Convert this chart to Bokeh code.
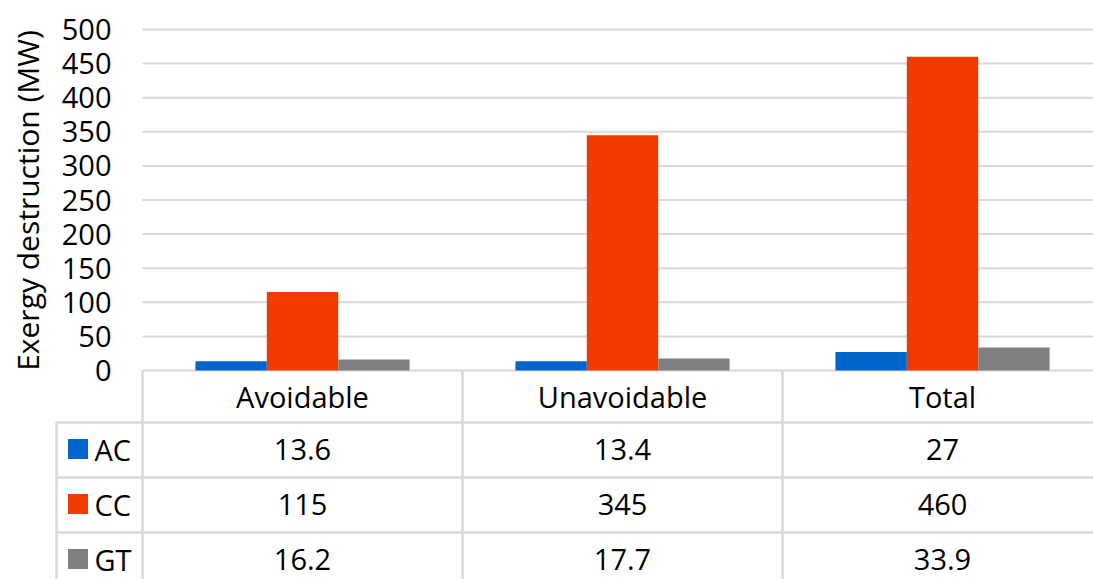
from bokeh.plotting import figure
from bokeh.models import ColumnDataSource, Range1d
from bokeh.transform import dodge
from bokeh.core.properties import value
from bokeh.embed import file_html
from bokeh.resources import INLINE
import numpy as np

categories = ["Avoidable", "Unavoidable", "Total"]
series = ["AC", "CC", "GT"]
ac = [13.6, 13.4, 27]
cc = [115, 345, 460]
gt = [16.2, 17.7, 33.9]
value_labels = {"AC": ["13.6", "13.4", "27"], "CC": ["115", "345", "460"], "GT": ["16.2", "17.7", "33.9"]}
colors = {"AC": "#0066CC", "CC": "#F03A00", "GT": "#7F7F7F"}
y_ticks = list(range(0, 501, 50))
y_title = "Exergy destruction (MW)"

FONT = "Open Sans"
GRID = "#D9D9D9"
TXT = "#000000"

# geometry (page pixels): plot area starts at 142, each category column is 320 px wide
W, H = 1093, 579
PAGE = 0
COL_PX = 320.0
X0 = 142
Y_ZERO = 370.0
PX_PER_UNIT = (370.0 - 29.0) / 500.0
BAR_W = 0.223


def xs(px):
    return (px - X0) / COL_PX


def yb(px):  # page pixel -> bar-value coordinate
    return (Y_ZERO - px) / PX_PER_UNIT


xc = np.arange(len(categories)) + 0.5
src = ColumnDataSource(data=dict(x=xc, AC=ac, CC=cc, GT=gt))

p = figure(width=W, height=H, output_backend="svg", toolbar_location=None,
           x_range=Range1d(xs(PAGE), xs(PAGE + W)),
           y_range=Range1d(yb(PAGE + H), yb(PAGE)),
           min_border=0, min_border_left=0, min_border_right=0,
           min_border_top=0, min_border_bottom=0)
p.outline_line_color = None
p.axis.visible = False
p.grid.visible = False
p.background_fill_color = "white"
p.border_fill_color = "white"

x_end = xs(PAGE + W) + 0.1

# horizontal gridlines
p.segment(x0=[0] * len(y_ticks), x1=[x_end] * len(y_ticks), y0=y_ticks, y1=y_ticks,
          line_color=GRID, line_width=2)

# y tick labels
p.text(x=[xs(111)] * len(y_ticks), y=y_ticks, text=[str(t) for t in y_ticks],
       text_font=value(FONT), text_font_size="29px", text_align="right",
       text_baseline="middle", text_color=TXT)

# y axis title
p.text(x=[xs(27)], y=[yb(200)], text=[y_title], angle=np.pi / 2,
       text_font=value(FONT), text_font_size="30px", text_align="center",
       text_baseline="middle", text_color=TXT)

# bars
for off, s in zip([-BAR_W, 0, BAR_W], series):
    p.vbar(x=dodge("x", off, range=p.x_range), top=s, bottom=0, width=BAR_W,
           source=src, fill_color=colors[s], line_color=None)

# ---------- data table ----------
header_bottom = 422
row_h = 55
row_lines = [header_bottom + k * row_h for k in range(len(series))]
row_centers = [header_bottom + (k + 0.5) * row_h - 1 for k in range(len(series))]
x_left = xs(56)
y_bottom = yb(PAGE + H + 10)

p.segment(x0=[x_left] * len(row_lines), x1=[x_end] * len(row_lines),
          y0=[yb(v) for v in row_lines], y1=[yb(v) for v in row_lines],
          line_color=GRID, line_width=2.5)
vx = list(range(len(categories) + 1))
p.segment(x0=vx, x1=vx, y0=[0] * len(vx), y1=[y_bottom] * len(vx),
          line_color=GRID, line_width=2.5)
p.segment(x0=[x_left], x1=[x_left], y0=[yb(row_lines[0])], y1=[y_bottom],
          line_color=GRID, line_width=2.5)

# header labels
p.text(x=list(xc), y=[yb(396)] * len(categories), text=categories,
       text_font=value(FONT), text_font_size="29px", text_align="center",
       text_baseline="middle", text_color=TXT)

# legend keys + series names
p.rect(x=[xs(77.5)] * len(series), y=[yb(v) for v in row_centers], width=20, height=20,
       width_units="screen", height_units="screen",
       fill_color=[colors[s] for s in series], line_color=None)
p.text(x=[xs(94)] * len(series), y=[yb(v) for v in row_centers], text=series,
       text_font=value(FONT), text_font_size="29px", text_align="left",
       text_baseline="middle", text_color=TXT)

# values
tx, ty, tt = [], [], []
for k, s in enumerate(series):
    for i in range(len(categories)):
        tx.append(xc[i]); ty.append(yb(row_centers[k])); tt.append(value_labels[s][i])
p.text(x=tx, y=ty, text=tt, text_font=value(FONT), text_font_size="29px",
       text_align="center", text_baseline="middle", text_color=TXT)

open("out.html", "w").write(file_html(p, INLINE))
